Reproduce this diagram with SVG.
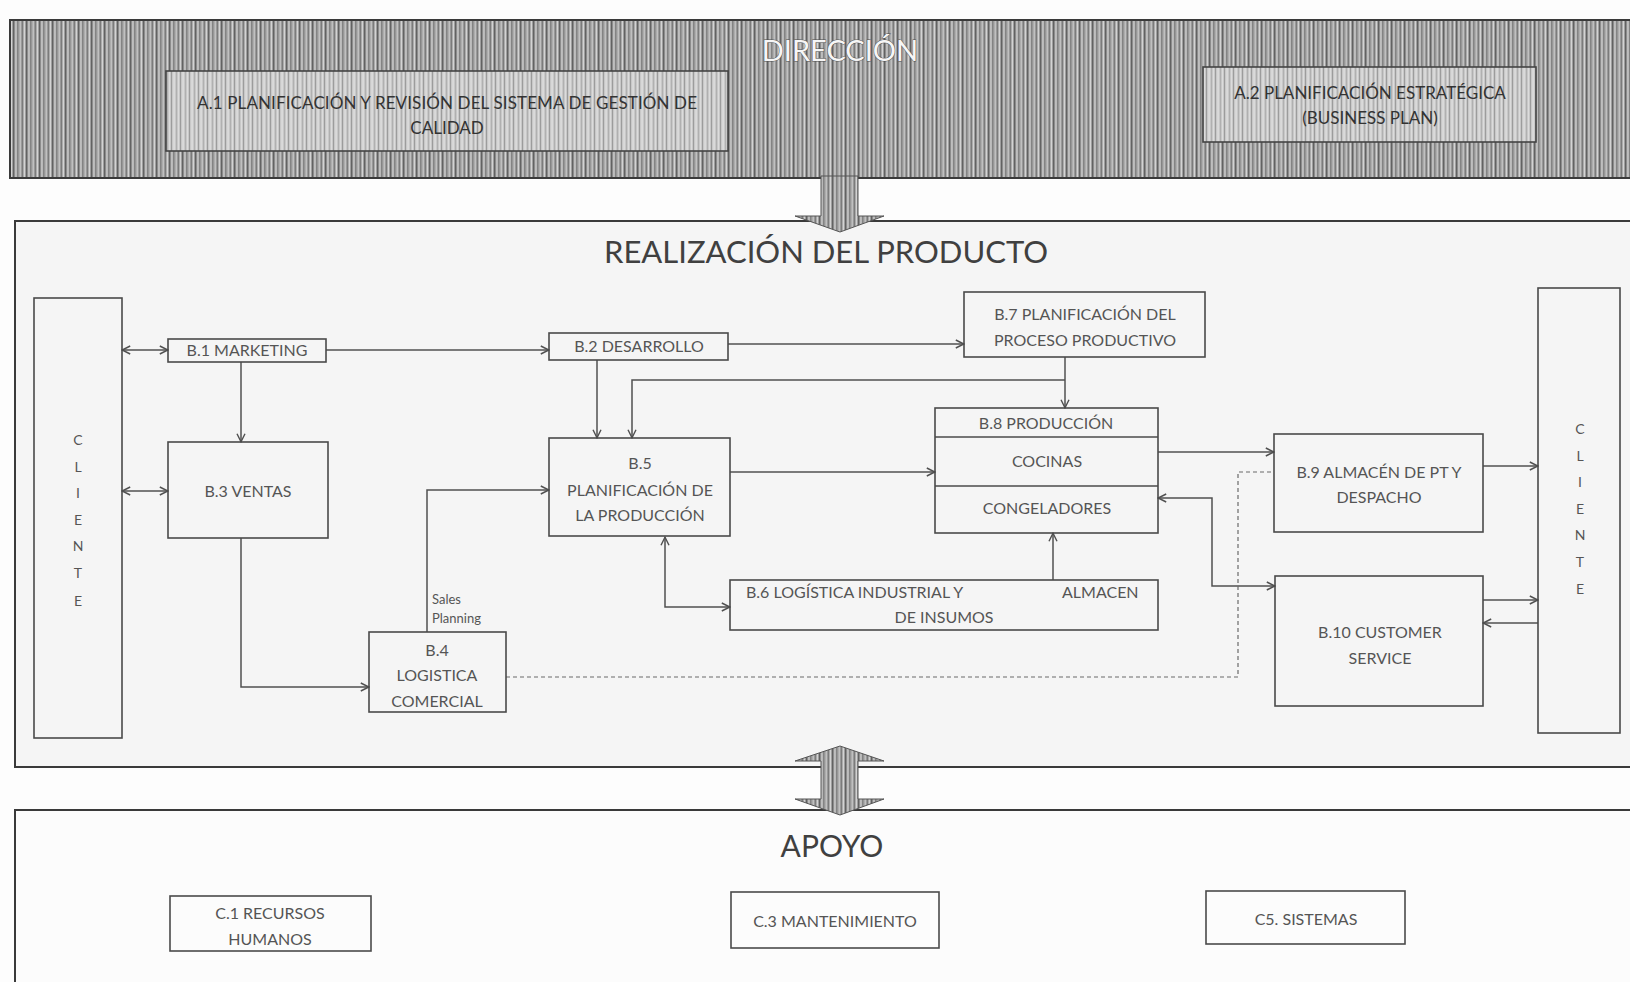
<svg xmlns="http://www.w3.org/2000/svg" width="1630" height="982" viewBox="0 0 1630 982">
  <defs>
    <!-- streaked grey fill for the management band and block arrows -->
    <pattern id="streak" width="13" height="8" patternUnits="userSpaceOnUse">
      <rect width="13" height="8" fill="#9e9e9e"/>
      <rect x="0" width="1.3" height="8" fill="#626262"/>
      <rect x="2.4" width="1.1" height="8" fill="#d4d4d4"/>
      <rect x="4.3" width="0.9" height="8" fill="#777777"/>
      <rect x="6.6" width="1.3" height="8" fill="#c4c4c4"/>
      <rect x="8.9" width="0.8" height="8" fill="#6c6c6c"/>
      <rect x="10.8" width="1" height="8" fill="#e0e0e0"/>
    </pattern>
    <pattern id="streakLight" width="9" height="8" patternUnits="userSpaceOnUse">
      <rect width="9" height="8" fill="#c8c8c8"/>
      <rect x="0" width="1" height="8" fill="#9c9c9c"/>
      <rect x="2.5" width="1.1" height="8" fill="#e6e6e6"/>
      <rect x="5" width="0.8" height="8" fill="#aaaaaa"/>
      <rect x="7" width="1" height="8" fill="#dcdcdc"/>
    </pattern>
    <marker id="ah" viewBox="0 0 10 10" refX="9.2" refY="5" markerWidth="10" markerHeight="10" markerUnits="userSpaceOnUse" orient="auto-start-reverse">
      <path d="M1,1 L9,5 L1,9" fill="none" stroke="#505050" stroke-width="1.4"/>
    </marker>
  </defs>
  <style>
    .sec { stroke: #3a3a3a; stroke-width: 2; }
    .box { fill: none; stroke: #4a4a4a; stroke-width: 1.6; }
    .t { font-family: Lato, "Liberation Sans", sans-serif; font-size: 16px; fill: #555; text-anchor: middle; }
    .ta { font-family: Lato, "Liberation Sans", sans-serif; font-size: 17px; fill: #333; text-anchor: middle; }
    .ts { font-family: Lato, "Liberation Sans", sans-serif; font-size: 13px; fill: #555; }
    .tl { font-family: Lato, "Liberation Sans", sans-serif; font-size: 14px; fill: #555; text-anchor: middle; }
    .head { font-family: Lato, "Liberation Sans", sans-serif; fill: #404040; text-anchor: middle; }
    .band-title { font-family: Lato, "Liberation Sans", sans-serif; font-size: 29px; fill: #f6f6f6; stroke: #4e4e4e; stroke-width: 0.9; paint-order: stroke; text-anchor: middle; }
    .conn path { fill: none; stroke: #505050; stroke-width: 1.5; }
    .conn path.dot { stroke: #6a6a6a; stroke-width: 1.2; stroke-dasharray: 4 3; }
  </style>

  <rect width="1630" height="982" fill="#fdfdfd"/>

  <!-- management band -->
  <g id="direccion">
    <rect class="sec" x="10" y="20" width="1640" height="158" fill="url(#streak)"/>
    <text class="band-title" x="840" y="61">DIRECCIÓN</text>
  </g>
  <g id="a1">
    <rect x="166" y="71" width="562" height="80" fill="url(#streakLight)" stroke="#444" stroke-width="1.6"/>
    <text class="ta" x="447" y="109" textLength="500">A.1 PLANIFICACIÓN Y REVISIÓN DEL SISTEMA DE GESTIÓN DE</text>
    <text class="ta" x="447" y="134">CALIDAD</text>
  </g>
  <g id="a2">
    <rect x="1203" y="67" width="333" height="75" fill="url(#streakLight)" stroke="#444" stroke-width="1.6"/>
    <text class="ta" x="1370" y="99">A.2 PLANIFICACIÓN ESTRATÉGICA</text>
    <text class="ta" x="1370" y="124">(BUSINESS PLAN)</text>
  </g>

  <!-- product realisation section -->
  <g id="realizacion">
    <rect class="sec" x="15" y="221" width="1640" height="546" fill="#f5f5f5"/>
    <text class="head" x="826" y="263" font-size="31">REALIZACIÓN DEL PRODUCTO</text>
  </g>

  <!-- support section -->
  <g id="apoyo">
    <rect class="sec" x="15" y="810" width="1640" height="200" fill="#fcfcfc"/>
    <text class="head" x="832" y="857" font-size="30">APOYO</text>
  </g>

  <!-- block arrows between sections -->
  <g id="flecha-direccion">
    <polygon points="821,176 858,176 858,216 884,216 840,232 795,216 821,216" fill="url(#streak)" stroke="#555" stroke-width="1"/>
  </g>
  <g id="flecha-apoyo">
    <polygon points="840,746 884,761 858,761 858,799 884,799 840,815 795,799 821,799 821,761 795,761" fill="url(#streak)" stroke="#555" stroke-width="1"/>
  </g>

  <!-- connectors -->
  <g id="connectors" class="conn">
    <path d="M122,350 H168" marker-start="url(#ah)" marker-end="url(#ah)"/>
    <path d="M122,491 H168" marker-start="url(#ah)" marker-end="url(#ah)"/>
    <path d="M326,350 H549" marker-end="url(#ah)"/>
    <path d="M241,362 V442" marker-end="url(#ah)"/>
    <path d="M241,538 V687 H369" marker-end="url(#ah)"/>
    <path d="M427,632 V490 H549" marker-end="url(#ah)"/>
    <path d="M597,360 V438" marker-end="url(#ah)"/>
    <path d="M1065,380 H632 V438" marker-end="url(#ah)"/>
    <path d="M728,344 H964" marker-end="url(#ah)"/>
    <path d="M1065,357 V408" marker-end="url(#ah)"/>
    <path d="M730,472 H935" marker-end="url(#ah)"/>
    <path d="M665,537 V607 H730" marker-start="url(#ah)" marker-end="url(#ah)"/>
    <path d="M1053,580 V533" marker-end="url(#ah)"/>
    <path d="M1158,452 H1274" marker-end="url(#ah)"/>
    <path d="M1158,498 H1212 V586 H1275" marker-start="url(#ah)" marker-end="url(#ah)"/>
    <path d="M1483,466 H1538" marker-end="url(#ah)"/>
    <path d="M1483,600 H1538" marker-end="url(#ah)"/>
    <path d="M1538,623 H1483" marker-end="url(#ah)"/>
    <path class="dot" d="M506,677 H1238 V472 H1274"/>
  </g>

  <!-- customer columns -->
  <g id="cliente-izq">
    <rect class="box" x="34" y="298" width="88" height="440"/>
    <text class="tl" x="78" y="445">C</text>
    <text class="tl" x="78" y="472">L</text>
    <text class="tl" x="78" y="498">I</text>
    <text class="tl" x="78" y="525">E</text>
    <text class="tl" x="78" y="551">N</text>
    <text class="tl" x="78" y="578">T</text>
    <text class="tl" x="78" y="606">E</text>
  </g>
  <g id="cliente-der">
    <rect class="box" x="1538" y="288" width="82" height="445"/>
    <text class="tl" x="1580" y="434">C</text>
    <text class="tl" x="1580" y="461">L</text>
    <text class="tl" x="1580" y="487">I</text>
    <text class="tl" x="1580" y="514">E</text>
    <text class="tl" x="1580" y="540">N</text>
    <text class="tl" x="1580" y="567">T</text>
    <text class="tl" x="1580" y="594">E</text>
  </g>

  <!-- process nodes -->
  <g id="b1">
    <rect class="box" x="168" y="339" width="158" height="23"/>
    <text class="t" x="247" y="356">B.1 MARKETING</text>
  </g>
  <g id="b2">
    <rect class="box" x="549" y="333" width="179" height="27"/>
    <text class="t" x="639" y="352">B.2 DESARROLLO</text>
  </g>
  <g id="b3">
    <rect class="box" x="168" y="442" width="160" height="96"/>
    <text class="t" x="248" y="497">B.3 VENTAS</text>
  </g>
  <g id="b4">
    <rect class="box" x="369" y="632" width="137" height="80"/>
    <text class="t" x="437" y="656">B.4</text>
    <text class="t" x="437" y="681">LOGISTICA</text>
    <text class="t" x="437" y="707">COMERCIAL</text>
    <text class="ts" x="432" y="604">Sales</text>
    <text class="ts" x="432" y="623">Planning</text>
  </g>
  <g id="b5">
    <rect class="box" x="549" y="438" width="181" height="98"/>
    <text class="t" x="640" y="469">B.5</text>
    <text class="t" x="640" y="496">PLANIFICACIÓN DE</text>
    <text class="t" x="640" y="521">LA PRODUCCIÓN</text>
  </g>
  <g id="b6">
    <rect class="box" x="730" y="580" width="428" height="50"/>
    <text class="t" x="746" y="598" style="text-anchor:start">B.6  LOGÍSTICA INDUSTRIAL Y</text>
    <text class="t" x="1062" y="598" style="text-anchor:start">ALMACEN</text>
    <text class="t" x="944" y="623">DE INSUMOS</text>
  </g>
  <g id="b7">
    <rect class="box" x="964" y="292" width="241" height="65"/>
    <text class="t" x="1085" y="320">B.7 PLANIFICACIÓN DEL</text>
    <text class="t" x="1085" y="346">PROCESO PRODUCTIVO</text>
  </g>
  <g id="b8">
    <rect class="box" x="935" y="408" width="223" height="125"/>
    <line x1="935" y1="437" x2="1158" y2="437" stroke="#4a4a4a" stroke-width="1.4"/>
    <line x1="935" y1="486" x2="1158" y2="486" stroke="#4a4a4a" stroke-width="1.4"/>
    <text class="t" x="1046" y="429">B.8 PRODUCCIÓN</text>
    <text class="t" x="1047" y="467">COCINAS</text>
    <text class="t" x="1047" y="514">CONGELADORES</text>
  </g>
  <g id="b9">
    <rect class="box" x="1274" y="434" width="209" height="98"/>
    <text class="t" x="1379" y="478">B.9 ALMACÉN DE PT Y</text>
    <text class="t" x="1379" y="503">DESPACHO</text>
  </g>
  <g id="b10">
    <rect class="box" x="1275" y="576" width="208" height="130"/>
    <text class="t" x="1380" y="638">B.10 CUSTOMER</text>
    <text class="t" x="1380" y="664">SERVICE</text>
  </g>

  <!-- support nodes -->
  <g id="c1">
    <rect class="box" x="170" y="896" width="201" height="55"/>
    <text class="t" x="270" y="919">C.1 RECURSOS</text>
    <text class="t" x="270" y="945">HUMANOS</text>
  </g>
  <g id="c3">
    <rect class="box" x="731" y="892" width="208" height="56"/>
    <text class="t" x="835" y="927">C.3 MANTENIMIENTO</text>
  </g>
  <g id="c5">
    <rect class="box" x="1206" y="891" width="199" height="53"/>
    <text class="t" x="1306" y="925">C5. SISTEMAS</text>
  </g>
</svg>
